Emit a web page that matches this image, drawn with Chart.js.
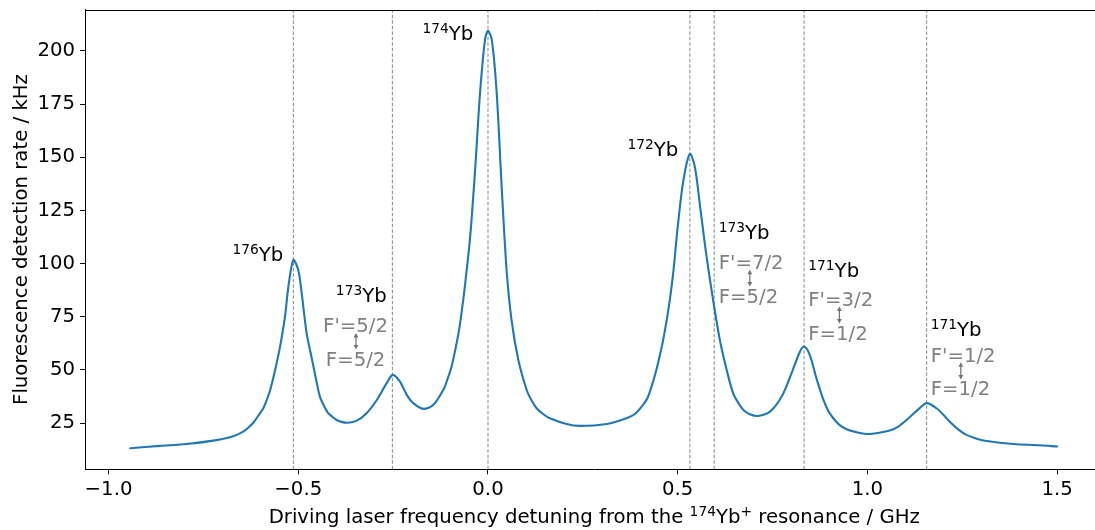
<!DOCTYPE html>
<html><head><meta charset="utf-8">
<script src="https://cdn.jsdelivr.net/npm/chart.js@4.4.0/dist/chart.umd.min.js"></script>
<style>
html,body{margin:0;padding:0;overflow:hidden;background:#fff;width:1095px;height:530px}
#wrap{width:1110px;height:530px;position:relative}
canvas{display:block}
</style></head>
<body><div id="wrap"><canvas id="c" width="1110" height="530" style="width:1110px;height:530px"></canvas></div>
<script>
// ---- data ----
const detuningGHz = [
 -0.943,-0.864,-0.794,-0.724,-0.680,-0.662,-0.645,-0.632,-0.618,-0.605,-0.592,-0.583,-0.574,-0.561,-0.548,-0.535,-0.526,-0.513,
 -0.500,-0.491,-0.478,-0.469,-0.460,-0.451,-0.443,-0.432,-0.421,-0.409,-0.399,-0.386,-0.372,-0.346,-0.320,-0.293,-0.267,-0.251,
 -0.232,-0.214,-0.197,-0.170,-0.144,-0.118,-0.109,-0.096,-0.078,-0.070,-0.061,-0.047,-0.034,-0.021,-0.008,0.000,
 0.010,0.023,0.036,0.049,0.062,0.080,0.102,0.115,0.128,0.146,0.163,0.207,0.242,0.313,0.365,0.387,0.405,0.420,0.431,0.443,0.453,
 0.462,0.471,0.480,0.488,0.501,0.515,0.532,0.545,0.559,0.576,0.596,0.611,0.629,0.646,0.660,0.673,0.690,0.712,0.743,0.774,
 0.800,0.822,0.833,0.848,0.866,0.884,0.897,0.910,0.926,0.945,0.972,1.007,1.059,1.081,1.103,1.134,1.156,1.182,1.200,1.217,1.239,1.261,
 1.288,1.314,1.384,1.455,1.500];
const rateKHz = [
 13.2,14.3,15.2,16.8,18.4,19.5,21.0,22.8,25.3,28.6,32.0,35.9,40.6,50.0,61.0,75.1,89.2,101.7,
 97.0,86.1,67.3,59.4,51.6,43.8,37.5,33.1,29.7,27.8,26.5,25.6,25.2,26.2,29.7,35.9,43.8,47.7,
 44.5,38.3,34.4,31.7,33.6,40.6,44.5,51.6,67.0,76.5,89.2,112.7,144.1,180.1,205.2,209.5,
 205.2,180.1,136.2,97.0,73.5,54.7,40.6,35.6,32.0,29.2,27.3,24.6,23.7,24.6,27.3,29.3,32.8,36.7,42.2,49.5,57.0,
 64.5,73.5,84.0,95.5,119.0,139.3,151.6,145.6,126.8,103.3,79.8,64.1,50.0,39.0,34.4,31.2,29.2,28.4,30.4,37.5,
 48.5,58.6,61.0,57.0,45.8,35.9,30.7,27.3,24.2,22.1,20.7,19.9,21.5,23.4,26.5,31.5,34.4,32.0,28.9,25.7,22.1,19.5,
 17.7,16.6,15.2,14.6,14.0];
const resonanceGHz = [-0.513, -0.252, 0.0, 0.532, 0.596, 0.833, 1.156];
const isotopeMass = ['176','173','174','172','173','171','171'];
const upperLevel = [null,"F'=5/2",null,null,"F'=7/2","F'=3/2","F'=1/2"];
const lowerLevel = [null,"F=5/2",null,null,"F=5/2","F=1/2","F=1/2"];
const xTickValues = [-1.0,-0.5,0.0,0.5,1.0,1.5];
const yTickValues = [25,50,75,100,125,150,175,200];
const xRange = [-1.062, 1.622];
const yRange = [3.3, 219.4];

// ---- annotation placement (data coordinates) ----
const labelPlace = [
 {x:-0.5394,y:101.4,align:'right'},
 {x:-0.2669,y:82.1,align:'right'},
 {x:-0.0387,y:205.2,align:'right'},
 {x:0.5015,y:150.8,align:'right'},
 {x:0.6079,y:111.6,align:'left'},
 {x:0.844,y:93.9,align:'left'},
 {x:1.1665,y:66.1,align:'left'}];
const levelPlace = [
 null,
 {x:-0.349,yUp:68.0,yLo:52.0,align:'center',ax:-0.348,a1:67.4,a2:59.6},
 null,null,
 {x:0.6079,yUp:97.4,yLo:81.4,align:'left',ax:0.690,a1:97.1,a2:89.2},
 {x:0.844,yUp:80.1,yLo:64.1,align:'left',ax:0.926,a1:79.8,a2:71.8},
 {x:1.1665,yUp:53.9,yLo:38.3,align:'left',ax:1.246,a1:53.6,a2:45.5}];

const FAM = '"DejaVu Sans"';
const BASE = 19.7, SUP = 13.8, RAISE = 7;
Chart.defaults.font.family = FAM;

function drawRich(ctx, segs, x, y, align, color){
  ctx.fillStyle = color;
  ctx.textBaseline = 'alphabetic';
  ctx.textAlign = 'left';
  let w = 0;
  const m = segs.map(s=>{ctx.font = (s.sup?SUP:BASE)+'px '+FAM; const ww = ctx.measureText(s.t).width; w += ww; return ww;});
  let cx = align==='right' ? x - w : align==='center' ? x - w/2 : x;
  segs.forEach((s,i)=>{ctx.font=(s.sup?SUP:BASE)+'px '+FAM; ctx.fillText(s.t, cx, s.sup? y-RAISE : y); cx += m[i];});
}
function arrow(ctx, x, y1, y2){
  const hl=4.5, hw=2.4;
  ctx.strokeStyle='#707070'; ctx.fillStyle='#707070'; ctx.lineWidth=1.2;
  ctx.beginPath(); ctx.moveTo(x,y1+hl-0.5); ctx.lineTo(x,y2-hl+0.5); ctx.stroke();
  ctx.beginPath(); ctx.moveTo(x,y1); ctx.lineTo(x-hw,y1+hl); ctx.lineTo(x+hw,y1+hl); ctx.closePath(); ctx.fill();
  ctx.beginPath(); ctx.moveTo(x,y2); ctx.lineTo(x-hw,y2-hl); ctx.lineTo(x+hw,y2-hl); ctx.closePath(); ctx.fill();
}

const annot = {
  id:'annot',
  afterDraw(chart){
    const {ctx, chartArea:a, scales:{x,y}} = chart;
    ctx.save();
    ctx.strokeStyle='#000'; ctx.lineWidth=1;
    ctx.beginPath();
    const t = Math.round(a.top)+0.5;
    ctx.moveTo(a.left, t); ctx.lineTo(a.right, t); ctx.lineTo(a.right, a.bottom);
    ctx.stroke();
    isotopeMass.forEach((m,i)=>{
      const p = labelPlace[i];
      drawRich(ctx,[{t:m,sup:true},{t:'Yb'}], x.getPixelForValue(p.x), y.getPixelForValue(p.y), p.align, '#000');
      const q = levelPlace[i];
      if(q){
        drawRich(ctx,[{t:upperLevel[i]}], x.getPixelForValue(q.x), y.getPixelForValue(q.yUp), q.align, '#808080');
        drawRich(ctx,[{t:lowerLevel[i]}], x.getPixelForValue(q.x), y.getPixelForValue(q.yLo), q.align, '#808080');
        arrow(ctx, x.getPixelForValue(q.ax), y.getPixelForValue(q.a1), y.getPixelForValue(q.a2));
      }
    });
    drawRich(ctx,[{t:'Driving laser frequency detuning from the '},{t:'174',sup:true},{t:'Yb'},{t:'+',sup:true},{t:' resonance / GHz'}],
      (a.left+a.right)/2, 523, 'center', '#000');
    ctx.translate(26.5,(a.top+a.bottom)/2);
    ctx.rotate(-Math.PI/2);
    drawRich(ctx,[{t:'Fluorescence detection rate / kHz'}],0,0,'center','#000');
    ctx.restore();
  }
};

const fmt = v => (v<0?'\u2212':'') + Math.abs(v).toFixed(1);

new Chart(document.getElementById('c'),{
  type:'line',
  data:{datasets:[
    ...resonanceGHz.map(v=>({data:[{x:v,y:yRange[0]},{x:v,y:yRange[1]}],borderColor:'#858585',borderWidth:1,
      borderDash:[3.5,2],pointRadius:0,fill:false,order:2,tension:0})),
    {data:detuningGHz.map((d,i)=>({x:d,y:rateKHz[i]})),borderColor:'#1f77b4',borderWidth:2.1,pointRadius:0,
      fill:false,tension:0.3,borderJoinStyle:'round',borderCapStyle:'round',order:1}
  ]},
  options:{
    responsive:false, animation:false, devicePixelRatio:1,
    layout:{padding:{top:9.7,right:6.5,left:0,bottom:0}},
    plugins:{legend:{display:false},tooltip:{enabled:false}},
    scales:{
      x:{type:'linear',min:xRange[0],max:xRange[1],
        afterBuildTicks:s=>{s.ticks=xTickValues.map(v=>({value:v}));},
        afterFit:s=>{s.height=530-469.3; s.paddingLeft=0; s.paddingRight=0;},
        ticks:{callback:fmt,font:{size:19.7},color:'#000',padding:4,maxRotation:0,autoSkip:false},
        grid:{drawOnChartArea:false,drawTicks:true,tickLength:5,color:'#000',lineWidth:1},
        border:{color:'#000',width:1}},
      y:{type:'linear',min:yRange[0],max:yRange[1],
        afterBuildTicks:s=>{s.ticks=yTickValues.map(v=>({value:v}));},
        afterFit:s=>{s.width=85; s.paddingTop=0; s.paddingBottom=0;},
        ticks:{callback:v=>String(v),font:{size:19.7},color:'#000',padding:5,autoSkip:false},
        grid:{drawOnChartArea:false,drawTicks:true,tickLength:5,color:'#000',lineWidth:1},
        border:{color:'#000',width:1}}
    }
  },
  plugins:[annot]
});
</script></body></html>
